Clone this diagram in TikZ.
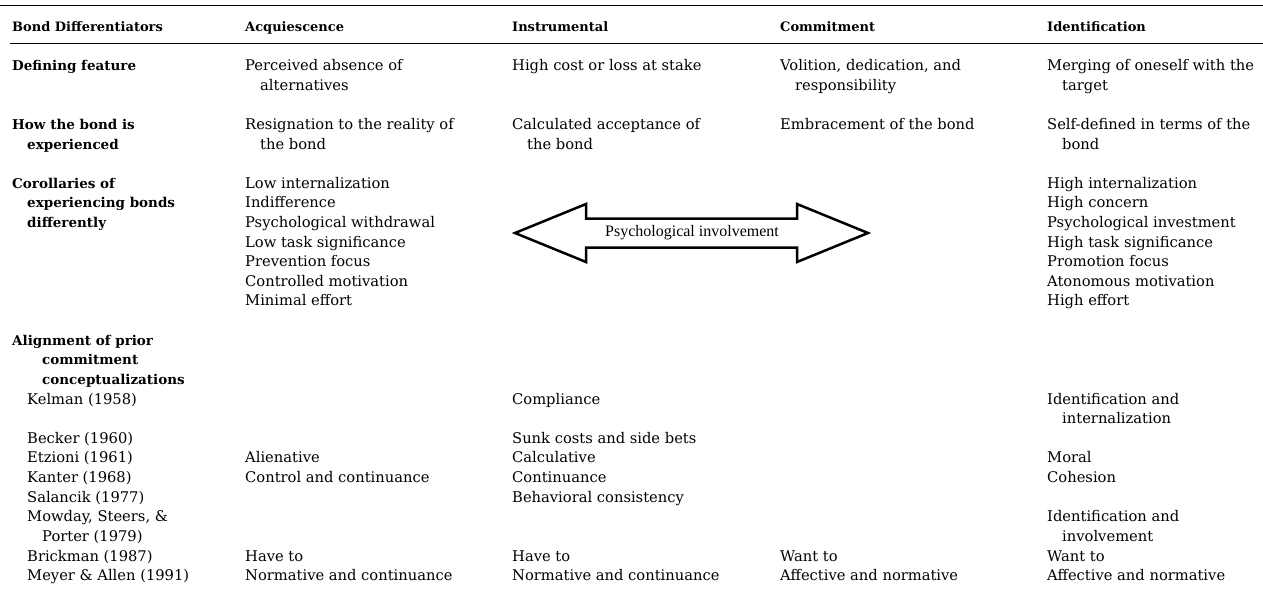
\documentclass[tikz,border=0pt]{standalone}
\usepackage{fontspec}
\setmainfont{DejaVu Serif}
\newfontfamily\timesfont{Liberation Serif}
\newcommand{\cind}{\hspace*{15pt}}
\newcommand{\fl}{\rule{0pt}{13pt}}

\begin{document}
\begin{tikzpicture}[x=1pt,y=-1pt,
    cell/.style={anchor=north west,inner sep=0pt,align=left,
      font=\fontsize{14.7}{19.62}\selectfont},
    rowhead/.style={cell,font=\fontsize{13.5}{19.62}\selectfont\bfseries},
    colhead/.style={anchor=base west,inner sep=0pt,font=\fontsize{13}{15}\selectfont\bfseries}]
  \useasboundingbox (0,0) rectangle (1263,592);
  % rules of the table head
  \draw[line width=1.8pt] (0,5.5) -- (1263,5.5);
  \draw[line width=1.1pt] (10,43.5) -- (1263,43.5);
  % column heads
  \node[colhead] (h0) at (12,31) {Bond Differentiators};
  \node[colhead] (h1) at (245,31) {Acquiescence};
  \node[colhead] (h2) at (512,31) {Instrumental};
  \node[colhead] (h3) at (780,31) {Commitment};
  \node[colhead] (h4) at (1047,31) {Identification};
  % defining feature
  \node[rowhead] (def0) at (12,57.3) {\fl Defining feature};
  \node[cell] (def1) at (245,57.3) {\fl Perceived absence of\\\cind alternatives};
  \node[cell] (def2) at (512,57.3) {\fl High cost or loss at stake};
  \node[cell] (def3) at (780,57.3) {\fl Volition, dedication, and\\\cind responsibility};
  \node[cell] (def4) at (1047,57.3) {\fl Merging of oneself with the\\\cind target};
  % how the bond is experienced
  \node[rowhead] (how0) at (12,116.2) {\fl How the bond is\\\cind experienced};
  \node[cell] (how1) at (245,116.2) {\fl Resignation to the reality of\\\cind the bond};
  \node[cell] (how2) at (512,116.2) {\fl Calculated acceptance of\\\cind the bond};
  \node[cell] (how3) at (780,116.2) {\fl Embracement of the bond};
  \node[cell] (how4) at (1047,116.2) {\fl Self-defined in terms of the\\\cind bond};
  % corollaries
  \node[rowhead] (cor0) at (12,175) {\fl Corollaries of\\\cind experiencing bonds\\\cind differently};
  \node[cell] (cor1) at (245,175) {\fl Low internalization\\Indifference\\Psychological withdrawal\\Low task significance\\Prevention focus\\Controlled motivation\\Minimal effort};
  \node[cell] (cor4) at (1047,175) {\fl High internalization\\High concern\\Psychological investment\\High task significance\\Promotion focus\\Atonomous motivation\\High effort};
  % double arrow between the two extremes
  \draw[line width=2.5pt] (515,233) -- (586,204) -- (586,218.5) -- (797,218.5) -- (797,204)
    -- (868,233) -- (797,262) -- (797,247.5) -- (586,247.5) -- (586,262) -- cycle;
  \node[inner sep=0pt,font=\timesfont\fontsize{16}{18}\selectfont] (inv) at (692,233) {Psychological involvement};
  % alignment of prior conceptualizations
  \node[rowhead] (ali0) at (12,332) {\fl Alignment of prior\\\cind\cind commitment\\\cind\cind conceptualizations};
  \node[cell] (kel0) at (27,390.8) {\fl Kelman (1958)};
  \node[cell] (kel2) at (512,390.8) {\fl Compliance};
  \node[cell] (kel4) at (1047,390.8) {\fl Identification and\\\cind internalization};
  \node[cell] (bec0) at (27,430.1) {\fl Becker (1960)};
  \node[cell] (bec2) at (512,430.1) {\fl Sunk costs and side bets};
  \node[cell] (etz0) at (27,449.7) {\fl Etzioni (1961)};
  \node[cell] (etz1) at (245,449.7) {\fl Alienative};
  \node[cell] (etz2) at (512,449.7) {\fl Calculative};
  \node[cell] (etz4) at (1047,449.7) {\fl Moral};
  \node[cell] (kan0) at (27,469.3) {\fl Kanter (1968)};
  \node[cell] (kan1) at (245,469.3) {\fl Control and continuance};
  \node[cell] (kan2) at (512,469.3) {\fl Continuance};
  \node[cell] (kan4) at (1047,469.3) {\fl Cohesion};
  \node[cell] (sal0) at (27,488.9) {\fl Salancik (1977)};
  \node[cell] (sal2) at (512,488.9) {\fl Behavioral consistency};
  \node[cell] (mow0) at (27,508.6) {\fl Mowday, Steers, \&\\\cind Porter (1979)};
  \node[cell] (mow4) at (1047,508.6) {\fl Identification and\\\cind involvement};
  \node[cell] (bri0) at (27,547.8) {\fl Brickman (1987)};
  \node[cell] (bri1) at (245,547.8) {\fl Have to};
  \node[cell] (bri2) at (512,547.8) {\fl Have to};
  \node[cell] (bri3) at (780,547.8) {\fl Want to};
  \node[cell] (bri4) at (1047,547.8) {\fl Want to};
  \node[cell] (mey0) at (27,567.4) {\fl Meyer \& Allen (1991)};
  \node[cell] (mey1) at (245,567.4) {\fl Normative and continuance};
  \node[cell] (mey2) at (512,567.4) {\fl Normative and continuance};
  \node[cell] (mey3) at (780,567.4) {\fl Affective and normative};
  \node[cell] (mey4) at (1047,567.4) {\fl Affective and normative};
\end{tikzpicture}
\end{document}
